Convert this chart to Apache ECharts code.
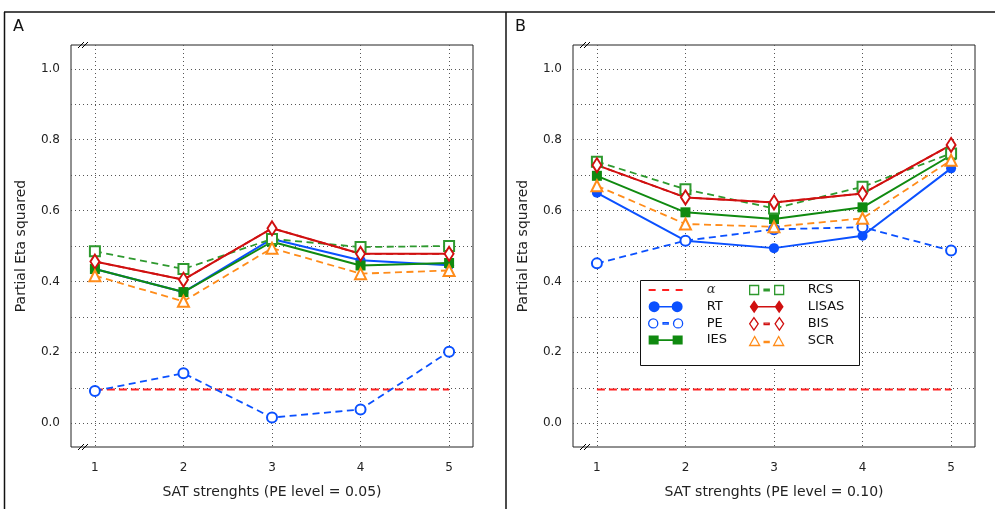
<!DOCTYPE html>
<html>
<head>
<meta charset="utf-8">
<script src="https://cdn.jsdelivr.net/npm/echarts@6/dist/echarts.min.js"></script>
<style>html,body{margin:0;padding:0;background:#fff}#c{width:995px;height:509px}</style>
</head>
<body>
<div id="c"></div>
<script>
const xs = [1, 2, 3, 4, 5];
const xTicks = [1, 2, 3, 4, 5];
const yGrid = [0, 0.1, 0.2, 0.3, 0.4, 0.5, 0.6, 0.7, 0.8, 0.9, 1.0];
const yLabels = [0, 0.2, 0.4, 0.6, 0.8, 1.0];
const seriesNames = ['α', 'RT', 'PE', 'IES', 'RCS', 'LISAS', 'BIS', 'SCR'];

// Panel A (PE level = 0.05)
const alphaA = [0.095, 0.095, 0.095, 0.095, 0.095];
const rtA    = [0.435, 0.370, 0.520, 0.460, 0.446];
const peA    = [0.091, 0.141, 0.016, 0.039, 0.202];
const iesA   = [0.435, 0.370, 0.512, 0.445, 0.452];
const rcsA   = [0.485, 0.435, 0.520, 0.497, 0.500];
const lisasA = [0.456, 0.405, 0.550, 0.478, 0.478];
const bisA   = [0.456, 0.405, 0.550, 0.478, 0.478];
const scrA   = [0.416, 0.344, 0.494, 0.422, 0.431];

// Panel B (PE level = 0.10)
const alphaB = [0.095, 0.095, 0.095, 0.095, 0.095];
const rtB    = [0.650, 0.515, 0.494, 0.529, 0.719];
const peB    = [0.451, 0.515, 0.547, 0.553, 0.487];
const iesB   = [0.698, 0.595, 0.576, 0.609, 0.756];
const rcsB   = [0.738, 0.660, 0.606, 0.667, 0.761];
const lisasB = [0.728, 0.637, 0.623, 0.648, 0.785];
const bisB   = [0.728, 0.637, 0.623, 0.648, 0.785];
const scrB   = [0.670, 0.562, 0.554, 0.578, 0.742];

const FONT = 'DejaVu Sans';
const BLUE = '#0a50ff', GREEN = '#108a10', GREEN2 = '#2e992e', RED = '#d01010', ORANGE = '#ff8c1a', ALPHA = '#ff2020';

const styles = {
  'α':   {color: ALPHA,  symbol: 'none', dash: [8, 4], width: 2},
  'RT':  {color: BLUE,   symbol: 'circle', size: 10, dash: null, width: 2},
  'PE':  {color: BLUE,   symbol: 'emptyCircle', size: 10, dash: [7, 4.5], width: 1.8},
  'IES': {color: GREEN,  symbol: 'rect', size: 10, dash: null, width: 2},
  'RCS': {color: GREEN2, symbol: 'emptyRect', size: 10, dash: [7, 4.5], width: 1.8},
  'LISAS': {color: RED,  symbol: 'diamond', size: [9, 14], dash: null, width: 2},
  'BIS': {color: RED,    symbol: 'emptyDiamond', size: [9, 14], dash: [7, 4.5], width: 1.8},
  'SCR': {color: ORANGE, symbol: 'emptyTriangle', size: 11, dash: [7, 4.5], width: 1.8}
};

function pairs(vals) { return xs.map((x, i) => [x, vals[i]]); }

function mk(name, vals, gi) {
  const s = styles[name];
  return {
    type: 'line', name: name, xAxisIndex: gi, yAxisIndex: gi,
    data: pairs(vals),
    symbol: s.symbol, symbolSize: s.size || 0, showSymbol: s.symbol !== 'none',
    animation: false,
    lineStyle: {color: s.color, width: s.width, type: s.dash ? s.dash : 'solid'},
    itemStyle: {color: s.color, borderWidth: 1.4}
  };
}

const panels = [
  [alphaA, rtA, peA, iesA, rcsA, lisasA, bisA, scrA],
  [alphaB, rtB, peB, iesB, rcsB, lisasB, bisB, scrB]
];
const series = [];
panels.forEach((arrs, gi) => arrs.forEach((a, k) => series.push(mk(seriesNames[k], a, gi))));

const xTitles = ['SAT strenghts (PE level = 0.05)', 'SAT strenghts (PE level = 0.10)'];
const gridLeft = [71, 573];

function xAxis(gi) {
  return {
    type: 'value', gridIndex: gi, min: 0.73, max: 5.27,
    name: xTitles[gi], nameLocation: 'middle', nameGap: 38,
    nameTextStyle: {fontFamily: FONT, fontSize: 14, color: '#222'},
    axisLine: {show: false}, axisTick: {show: false, customValues: xTicks},
    axisLabel: {customValues: xTicks, margin: 15, fontFamily: FONT, fontSize: 12, color: '#222'},
    splitLine: {show: true, lineStyle: {color: '#555', type: [1, 3], width: 1}}
  };
}
function yAxis(gi) {
  return {
    type: 'value', gridIndex: gi, min: -0.067, max: 1.067,
    name: 'Partial Eta squared', nameLocation: 'middle', nameGap: 43,
    nameTextStyle: {fontFamily: FONT, fontSize: 14, color: '#222'},
    axisLine: {show: false}, axisTick: {show: false, customValues: yGrid},
    axisLabel: {customValues: yLabels, margin: 11, fontFamily: FONT, fontSize: 12, color: '#222',
      formatter: v => v.toFixed(1)},
    splitLine: {show: true, lineStyle: {color: '#555', type: [1, 3], width: 1}}
  };
}

function breakMarks(x0, y0) {
  return [0, 4].map(d => ({
    type: 'line', z: 10,
    shape: {x1: x0 + d, y1: y0 + 3, x2: x0 + d + 6, y2: y0 - 3},
    style: {stroke: '#000', lineWidth: 1}
  }));
}

// legend icon shapes (34 px wide)
const circ = (cx, cy, r) => `M${cx - r},${cy} A${r},${r} 0 1,1 ${cx + r},${cy} A${r},${r} 0 1,1 ${cx - r},${cy} Z`;
const box = (x, y, w, h) => `M${x},${y} L${x + w},${y} L${x + w},${y + h} L${x},${y + h} Z`;
const dia = (cx, cy, w, h) => `M${cx},${cy - h / 2} L${cx + w / 2},${cy} L${cx},${cy + h / 2} L${cx - w / 2},${cy} Z`;
const tri = (cx, cy, w, h) => `M${cx},${cy - h / 2} L${cx + w / 2},${cy + h / 2} L${cx - w / 2},${cy + h / 2} Z`;
const ICON = {
  'α': [box(0, 0, 7, 1.8), box(13.5, 0, 7, 1.8), box(27, 0, 7, 1.8)].join(' '),
  'RT': [circ(5.5, 5.5, 5.5), box(5, 4.7, 24, 1.6), circ(28.5, 5.5, 5.5)].join(' '),
  'PE': [circ(5, 5, 4.4), box(14.5, 4.3, 5, 1.4), circ(29, 5, 4.4)].join(' '),
  'IES': [box(0, 0.5, 10, 9), box(5, 4.2, 24, 1.6), box(24, 0.5, 10, 9)].join(' '),
  'RCS': [box(0.7, 0.7, 8.6, 8.6), box(14.5, 4.3, 5, 1.4), box(24.7, 0.7, 8.6, 8.6)].join(' '),
  'LISAS': [dia(4.5, 6.5, 9, 13), box(4, 5.7, 26, 1.6), dia(29.5, 6.5, 9, 13)].join(' '),
  'BIS': [dia(4.5, 6.5, 8.4, 12.4), box(14.5, 5.8, 5, 1.4), dia(29.5, 6.5, 8.4, 12.4)].join(' '),
  'SCR': [tri(5, 5, 10, 9), box(14.5, 5.3, 5, 1.4), tri(29, 5, 10, 9)].join(' ')
};
function legItem(name) {
  const s = styles[name];
  const empty = s.symbol.indexOf('empty') === 0;
  return {
    name: name, icon: 'path://' + ICON[name],
    itemStyle: empty ? {color: '#fff', borderColor: s.color, borderWidth: 1.3}
                     : {color: s.color, borderWidth: 0, borderColor: s.color}
  };
}

const legendCommon = {
  orient: 'vertical', padding: 0, itemWidth: 34, itemHeight: 13, itemGap: 3.7,
  symbolKeepAspect: true,
  z: 5,
  textStyle: {fontFamily: FONT, fontSize: 13, color: '#111', padding: [0, 0, 0, 19],
    rich: {it: {fontFamily: 'DejaVu Serif', fontStyle: 'italic', fontSize: 13, color: '#333'}}},
  formatter: n => n === 'α' ? '{it|α}' : n
};

const option = {
  backgroundColor: '#fff',
  animation: false,
  title: [
    {text: 'A', left: 13, top: 19, padding: 0, textStyle: {fontFamily: FONT, fontSize: 16, fontWeight: 'normal', color: '#111'}},
    {text: 'B', left: 515, top: 19, padding: 0, textStyle: {fontFamily: FONT, fontSize: 16, fontWeight: 'normal', color: '#111'}}
  ],
  grid: gridLeft.map(l => ({left: l, top: 45, width: 402, height: 402, show: true,
    borderColor: '#222', borderWidth: 1, backgroundColor: 'transparent'})),
  xAxis: [xAxis(0), xAxis(1)],
  yAxis: [yAxis(0), yAxis(1)],
  legend: [
    Object.assign({left: 648, top: 283.5, data: ['α', 'RT', 'PE', 'IES'].map(legItem)}, legendCommon),
    Object.assign({left: 749, top: 283.5, data: ['RCS', 'LISAS', 'BIS', 'SCR'].map(legItem)}, legendCommon)
  ],
  graphic: [
    {type: 'line', z: 10, shape: {x1: 4, y1: 12, x2: 995, y2: 12}, style: {stroke: '#111', lineWidth: 1.5}},
    {type: 'line', z: 10, shape: {x1: 4.5, y1: 12, x2: 4.5, y2: 509}, style: {stroke: '#111', lineWidth: 1.5}},
    {type: 'line', z: 10, shape: {x1: 506, y1: 12, x2: 506, y2: 509}, style: {stroke: '#111', lineWidth: 1.5}},
    {type: 'rect', z: 3, shape: {x: 640.5, y: 280.5, width: 219, height: 85},
      style: {fill: '#fff', stroke: '#111', lineWidth: 1}},
    ...breakMarks(78, 45), ...breakMarks(78, 447),
    ...breakMarks(580, 45), ...breakMarks(580, 447)
  ],
  series: series
};

const chart = echarts.init(document.getElementById('c'), null, {renderer: 'canvas'});
chart.setOption(option);
</script>
</body>
</html>
